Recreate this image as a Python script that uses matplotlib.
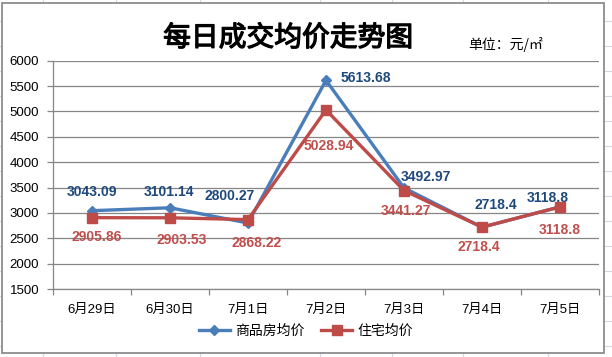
import matplotlib
matplotlib.use("Agg")
import matplotlib.pyplot as plt
import matplotlib.patheffects as pe
from matplotlib.lines import Line2D
from matplotlib.patches import Rectangle

plt.rcParams['font.family'] = ['Liberation Sans', 'Noto Sans CJK SC', 'DejaVu Sans']

# data
dates = ["6月29日", "6月30日", "7月1日", "7月2日", "7月3日", "7月4日", "7月5日"]
commercial = [3043.09, 3101.14, 2800.27, 5613.68, 3492.97, 2718.4, 3118.8]
housing = [2905.86, 2903.53, 2868.22, 5028.94, 3441.27, 2718.4, 3118.8]
commercial_text = ["3043.09", "3101.14", "2800.27", "5613.68", "3492.97", "2718.4", "3118.8"]
housing_text = ["2905.86", "2903.53", "2868.22", "5028.94", "3441.27", "2718.4", "3118.8"]
yticks = [1500, 2000, 2500, 3000, 3500, 4000, 4500, 5000, 5500, 6000]

# label offsets (pixels, up is positive), picked by eye
blue_off = [(0, 19), (-1, 16), (-18, 27), (40, 2), (22, 11), (14, 22), (-12, 9)]
red_off = [(5, -19), (12, -22), (9, -23), (3, -36), (2, -20), (-3, -20), (0, -23)]

W, H = 612, 357
fig = plt.figure(figsize=(W / 100, H / 100), dpi=100)


def fx(x):
    return x / W


def fy(y):
    return 1 - y / H


# spreadsheet grid behind the chart
gridcol = '#d4d8e0'
for x in [43, 116, 200, 320, 392, 463, 548]:
    fig.add_artist(Line2D([fx(x), fx(x)], [0, 1], color=gridcol, lw=0.8, zorder=0))
for y in range(21, H, 25):
    fig.add_artist(Line2D([0, 1], [fy(y), fy(y)], color=gridcol, lw=0.8, zorder=0))

# chart area box
fig.add_artist(Rectangle((fx(2), fy(353)), fx(604) - fx(2), fy(3) - fy(353),
                         facecolor='white', edgecolor='#8c8c8c', lw=1.3,
                         transform=fig.transFigure, zorder=1))

ax = fig.add_axes([fx(53), fy(289), fx(599) - fx(53), fy(60.7) - fy(289)])
ax.set_zorder(2)
ax.patch.set_alpha(0)

x = list(range(len(dates)))
ax.plot(x, commercial, color='#4a7ebb', lw=2.4, marker='D', ms=5.5,
        label='商品房均价', zorder=3)
ax.plot(x, housing, color='#be4b48', lw=2.4, marker='s', ms=7,
        label='住宅均价', zorder=4)

for i in x:
    ax.annotate(commercial_text[i], (i, commercial[i]), xytext=blue_off[i],
                textcoords='offset pixels', ha='center', va='center',
                fontsize=10, fontweight='bold', color='#1f497d', zorder=5)
    ax.annotate(housing_text[i], (i, housing[i]), xytext=red_off[i],
                textcoords='offset pixels', ha='center', va='center',
                fontsize=10, fontweight='bold', color='#c0504d', zorder=5)

ax.set_xlim(-0.5, len(dates) - 0.5)
ax.set_ylim(1500, 6000)
ax.set_yticks(yticks)
ax.yaxis.grid(True, color='#868686', lw=0.9)
ax.set_axisbelow(True)

ax.set_xticks(x)
ax.set_xticklabels(dates, fontsize=9.5)
ax.set_xticks([i - 0.5 for i in range(len(dates) + 1)], minor=True)
ax.tick_params(axis='x', which='major', length=0, pad=11)
ax.tick_params(axis='x', which='minor', length=4, color='#868686', width=0.9)
ax.tick_params(axis='y', length=4, color='#868686', width=0.9, labelsize=9.5, pad=6)

for s in ['top', 'right']:
    ax.spines[s].set_visible(False)
for s in ['left', 'bottom']:
    ax.spines[s].set_color('#868686')
    ax.spines[s].set_linewidth(0.9)

fig.text(fx(288), fy(38), '每日成交均价走势图', ha='center', va='center',
         fontsize=20, family=['Noto Sans CJK SC', 'DejaVu Sans'],
         path_effects=[pe.withStroke(linewidth=0.9, foreground='black')])
fig.text(fx(506), fy(44), '单位：元/㎡', ha='center', va='center',
         fontsize=10, family=['Noto Sans CJK SC', 'DejaVu Sans'])

handles, labels = ax.get_legend_handles_labels()
fig.legend(handles, labels, loc='center', bbox_to_anchor=(fx(306), fy(331)),
           ncol=2, frameon=False, fontsize=10, handlelength=2.2,
           columnspacing=1.2, handletextpad=0.4)

fig.savefig('out.png', dpi=100)
